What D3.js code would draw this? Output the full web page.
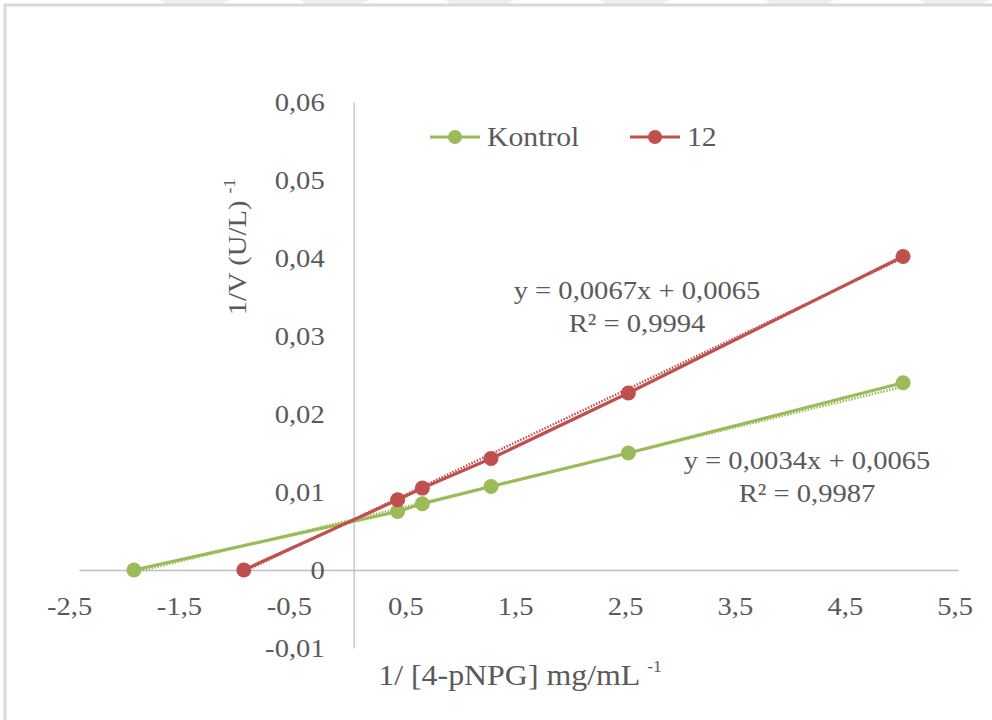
<!DOCTYPE html>
<html>
<head>
<meta charset="utf-8">
<script src="https://cdn.jsdelivr.net/npm/d3@7"></script>
<style>
  body { margin: 0; background: #fff; }
  text { font-family: "Liberation Serif", "Times New Roman", serif; fill: #5a5a5a; }
</style>
</head>
<body>
<div id="chart"></div>
<script>
var svgWidth = 992;
var svgHeight = 720;

// data
var seriesNames = ["Kontrol", "12"];
var seriesColors = ["#9bbb59", "#c0504d"];
var kontrolX = [-2, 0.4, 0.625, 1.25, 2.5, 5];
var kontrolY = [0, 0.0075, 0.0085, 0.0107, 0.015, 0.024];
var s12X = [-1, 0.4, 0.625, 1.25, 2.5, 5];
var s12Y = [0, 0.009, 0.0105, 0.0143, 0.0227, 0.0402];
var slopes = [0.0034, 0.0067];
var intercepts = [0.0065, 0.0065];
var eqLabels = ["y = 0,0034x + 0,0065", "y = 0,0067x + 0,0065"];
var r2Labels = ["R² = 0,9987", "R² = 0,9994"];
var xTicks = [-2.5, -1.5, -0.5, 0.5, 1.5, 2.5, 3.5, 4.5, 5.5];
var yTicks = [-0.01, 0, 0.01, 0.02, 0.03, 0.04, 0.05, 0.06];

var margin = { top: 102, right: 34, bottom: 72, left: 79 };
var width = svgWidth - margin.left - margin.right;
var height = svgHeight - margin.top - margin.bottom;
var sx = 1.1; // the source font is drawn a little wide

var svg = d3.select("#chart")
    .append("svg")
    .attr("width", svgWidth)
    .attr("height", svgHeight);

// widen text around its anchor point
function stretch(sel, extra) {
    sel.each(function () {
        var t = d3.select(this);
        var px = +t.attr("x") || 0, py = +t.attr("y") || 0;
        t.attr("x", 0).attr("y", 0)
            .attr("transform", `translate(${px},${py}) ${extra || ""} scale(${sx},1)`);
    });
}

// faint background stripes + frame
var stripes = [160, 300, 445, 600, 765, 920];
svg.selectAll(".stripe")
    .data(stripes)
    .enter()
    .append("path")
    .attr("d", d => `M${d},0 L${d + 70},0 L${d + 58},5 L${d + 8},5 Z`)
    .attr("fill", "#eeeeee");
svg.append("path")
    .attr("d", `M5,${svgHeight} L5,5 L${svgWidth},5`)
    .attr("fill", "none")
    .attr("stroke", "#d9d9d9")
    .attr("stroke-width", 3);

var chartGroup = svg.append("g")
    .attr("transform", `translate(${margin.left}, ${margin.top})`);

var x = d3.scaleLinear().domain([-2.5, 5.5]).range([0, width]);
var y = d3.scaleLinear().domain([-0.01, 0.06]).range([height, 0]);
var fmt = v => String(+v.toFixed(3)).replace(".", ",");

// axes (crossing at zero)
var xAxis = chartGroup.append("g")
    .attr("transform", `translate(0, ${y(0)})`)
    .call(d3.axisBottom(x).tickValues(xTicks).tickSize(0).tickFormat(fmt));
xAxis.select(".domain").attr("stroke", "#bfbfbf").attr("stroke-width", 1.3);
xAxis.selectAll("text")
    .attr("font-size", "26px")
    .attr("fill", null)
    .attr("y", 27)
    .attr("dx", d => d < 0 ? -9 : -3)
    .attr("dy", "0.71em");
stretch(xAxis.selectAll("text"));

var yAxis = chartGroup.append("g")
    .attr("transform", `translate(${x(0)}, 0)`)
    .call(d3.axisLeft(y).tickValues(yTicks).tickSize(0).tickFormat(fmt));
yAxis.select(".domain").attr("stroke", "#bfbfbf").attr("stroke-width", 1.3);
yAxis.selectAll("text")
    .attr("font-size", "26px")
    .attr("fill", null)
    .attr("x", -29);
stretch(yAxis.selectAll("text"));

// series
var series = [
    { name: seriesNames[0], color: seriesColors[0], pts: kontrolX.map((v, i) => [v, kontrolY[i]]) },
    { name: seriesNames[1], color: seriesColors[1], pts: s12X.map((v, i) => [v, s12Y[i]]) }
];
var line = d3.line().x(d => x(d[0])).y(d => y(d[1]));

series.forEach(function (s, k) {
    var tx = d3.extent(s.pts, d => d[0]);
    // linear trendline (dotted)
    chartGroup.append("path")
        .datum(tx.map(v => [v, slopes[k] * v + intercepts[k]]))
        .attr("d", line)
        .attr("fill", "none")
        .attr("stroke", s.color)
        .attr("stroke-width", 2.5)
        .attr("stroke-dasharray", "1.5,1.5");
    chartGroup.append("path")
        .datum(s.pts)
        .attr("d", line)
        .attr("fill", "none")
        .attr("stroke", s.color)
        .attr("stroke-width", 3.2);
    chartGroup.selectAll(".pt" + k)
        .data(s.pts)
        .enter()
        .append("circle")
        .attr("cx", d => x(d[0]))
        .attr("cy", d => y(d[1]))
        .attr("r", 7.5)
        .attr("fill", s.color);
});

// trendline equations
var eqPos = [[807, 460], [637, 290]];
eqLabels.forEach(function (t, k) {
    svg.append("text")
        .attr("x", eqPos[k][0]).attr("y", eqPos[k][1])
        .attr("dy", "0.35em")
        .attr("text-anchor", "middle")
        .attr("font-size", "26px")
        .text(t);
    svg.append("text")
        .attr("x", eqPos[k][0]).attr("y", eqPos[k][1] + 33)
        .attr("dy", "0.35em")
        .attr("text-anchor", "middle")
        .attr("font-size", "26px")
        .text(r2Labels[k]);
});

// legend
var legendX = [430, 630];
series.forEach(function (s, k) {
    var g = svg.append("g").attr("transform", `translate(${legendX[k]}, 137)`);
    g.append("line").attr("x1", 0).attr("x2", 50)
        .attr("stroke", s.color).attr("stroke-width", 3.2);
    g.append("circle").attr("cx", 25).attr("r", 7).attr("fill", s.color);
    g.append("text").attr("x", 57).attr("dy", "0.35em")
        .attr("font-size", "27px").text(s.name);
});
stretch(svg.selectAll(":scope > text"));
svg.selectAll("g > text").filter(function () { return this.parentNode.parentNode === svg.node(); })
    .call(stretch);

// axis titles
var yTitle = svg.append("text")
    .attr("transform", `translate(246, 247) rotate(-90) scale(${sx},1)`)
    .attr("text-anchor", "middle")
    .attr("font-size", "26px");
yTitle.append("tspan").text("1/V (U/L) ");
yTitle.append("tspan").attr("font-size", "16px").attr("dy", "-0.7em").text("-1");

var xTitle = svg.append("text")
    .attr("transform", `translate(520, 685) scale(${sx},1)`)
    .attr("text-anchor", "middle")
    .attr("font-size", "29px");
xTitle.append("tspan").text("1/ [4-pNPG] mg/mL ");
xTitle.append("tspan").attr("font-size", "16px").attr("dy", "-0.8em").text("-1");
</script>
</body>
</html>
